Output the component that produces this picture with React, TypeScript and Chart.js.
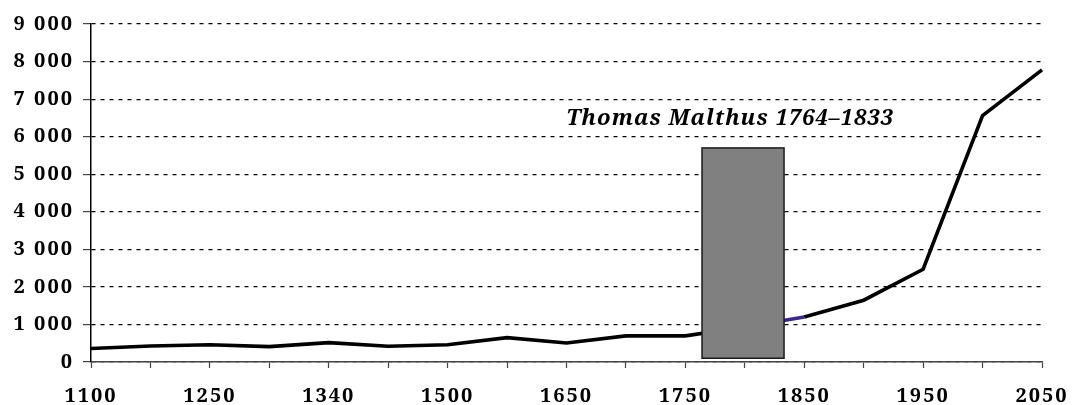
import React, { useEffect, useRef } from "react";
import { Chart, registerables } from "chart.js";

Chart.register(...registerables);

const categories = [
  "1100", "1200", "1250", "1300", "1340", "1400", "1500", "1600", "1650",
  "1700", "1750", "1800", "1850", "1900", "1950", "2000", "2050",
];
const population = [
  360, 425, 460, 410, 515, 420, 460, 650, 505, 695, 695, 930, 1200, 1645, 2470, 6560, 7780,
];
const yTicks = [0, 1000, 2000, 3000, 4000, 5000, 6000, 7000, 8000, 9000];
const malthusYears = [1764, 1833];
const malthusRange = [100, 5700];
const annotationText = "Thomas Malthus 1764\u20131833";

const FONT = "'Noto Serif', serif";

function fmt(v: number) {
  return String(v).replace(/\B(?=(\d{3})+(?!\d))/g, " ");
}

function yearToIndex(year: number) {
  const yrs = categories.map(Number);
  for (let i = 0; i < yrs.length - 1; i++) {
    if (year >= yrs[i] && year <= yrs[i + 1]) {
      return i + (year - yrs[i]) / (yrs[i + 1] - yrs[i]);
    }
  }
  return 0;
}

const spacingPlugin = {
  id: "spacing",
  beforeUpdate(chart: any) {
    chart.ctx.letterSpacing = "2px";
  },
  beforeDraw(chart: any) {
    chart.ctx.letterSpacing = "2px";
  },
};

const malthusPlugin = {
  id: "malthus",
  afterDatasetsDraw(chart: any) {
    const { ctx, scales } = chart;
    const x = scales.x;
    const y = scales.y;
    const i0 = yearToIndex(malthusYears[0]);
    const i1 = yearToIndex(malthusYears[1]);
    const px = (i: number) => {
      const a = Math.floor(i);
      const b = Math.min(a + 1, categories.length - 1);
      const pa = x.getPixelForValue(a);
      const pb = x.getPixelForValue(b);
      return pa + (pb - pa) * (i - a);
    };
    const x0 = px(i0);
    const x1 = px(i1);
    const yTop = y.getPixelForValue(malthusRange[1]);
    const yBot = y.getPixelForValue(malthusRange[0]);
    ctx.save();
    ctx.fillStyle = "#808080";
    ctx.fillRect(x0, yTop, x1 - x0, yBot - yTop);
    ctx.strokeStyle = "#1a1a1a";
    ctx.lineWidth = 1.5;
    ctx.strokeRect(x0, yTop, x1 - x0, yBot - yTop);
    ctx.font = `italic bold 22px ${FONT}`;
    ctx.letterSpacing = "1px";
    ctx.fillStyle = "#000";
    ctx.textAlign = "center";
    ctx.textBaseline = "middle";
    const cx = px((i0 + i1) / 2) - 13;
    const cy = y.getPixelForValue(6480);
    ctx.fillText(annotationText, cx, cy);
    ctx.restore();
  },
};

export default function App() {
  const ref = useRef<HTMLCanvasElement | null>(null);
  useEffect(() => {
    document.body.style.margin = "0";
    if (!ref.current) return;
    const chart = new Chart(ref.current, {
      type: "line",
      data: {
        labels: categories,
        datasets: [
          {
            data: population,
            borderColor: "#000",
            borderWidth: 3.6,
            pointRadius: 0,
            tension: 0,
            fill: false,
            segment: {
              borderColor: (c: any) => (c.p0DataIndex === 11 ? "#3b2590" : undefined),
            },
          },
        ],
      },
      options: {
        animation: false,
        responsive: false,
        maintainAspectRatio: false,
        layout: { padding: { top: 24, right: 33, left: 0, bottom: 0 } },
        plugins: {
          legend: { display: false },
          tooltip: { enabled: false },
          title: { display: false },
        },
        scales: {
          x: {
            type: "category",
            offset: false,
            grid: {
              offset: false,
              drawOnChartArea: false,
              drawTicks: true,
              tickLength: 6,
              tickColor: "#444",
              tickWidth: 1.2,
            },
            border: { color: "#444", width: 1.5 },
            ticks: {
              autoSkip: false,
              maxRotation: 0,
              minRotation: 0,
              padding: 16,
              color: "#000",
              font: { family: FONT, size: 20, weight: "bold" },
              callback: (_v: any, i: number) => (i % 2 === 0 ? categories[i] : ""),
            },
            afterFit: (s: any) => {
              s.height = 43;
              s.paddingRight = 0;
              s.paddingLeft = 0;
            },
          },
          y: {
            type: "linear",
            min: yTicks[0],
            max: yTicks[yTicks.length - 1],
            afterBuildTicks: (s: any) => {
              s.ticks = yTicks.map((v) => ({ value: v }));
            },
            grid: {
              color: "#000",
              lineWidth: 1.2,
              drawTicks: true,
              tickLength: 8,
              tickColor: "#444",
              tickBorderDash: [],
              tickWidth: 1.2,
            },
            border: { color: "#000", width: 1.5, dash: [4, 5] },
            ticks: {
              padding: 9,
              color: "#000",
              font: { family: FONT, size: 20, weight: "bold" },
              callback: (v: any) => fmt(Number(v)),
            },
            afterFit: (s: any) => {
              s.width = 91;
              s.paddingTop = 0;
            },
          },
        },
      },
      plugins: [spacingPlugin, malthusPlugin],
    } as any);
    return () => chart.destroy();
  }, []);
  return <canvas ref={ref} width={1075} height={405} style={{ display: "block" }} />;
}
